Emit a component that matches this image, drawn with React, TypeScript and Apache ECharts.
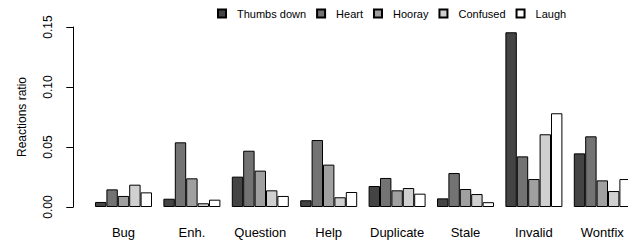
import React, { useEffect, useRef } from "react";
import * as echarts from "echarts";

const categories = ["Bug", "Enh.", "Question", "Help", "Duplicate", "Stale", "Invalid", "Wontfix"];
const seriesNames = ["Thumbs down", "Heart", "Hooray", "Confused", "Laugh"];
const thumbsDown = [0.0042, 0.0069, 0.0253, 0.0056, 0.0175, 0.0072, 0.1456, 0.0447];
const heart = [0.0147, 0.0539, 0.0469, 0.0558, 0.0242, 0.0283, 0.0422, 0.0589];
const hooray = [0.0092, 0.0239, 0.0303, 0.0353, 0.0139, 0.015, 0.0233, 0.0222];
const confused = [0.0186, 0.0031, 0.0139, 0.0081, 0.0158, 0.0108, 0.0606, 0.0133];
const laugh = [0.0122, 0.0061, 0.0092, 0.0125, 0.0111, 0.004, 0.0781, 0.0233];
const yTicks = [0, 0.05, 0.1, 0.15];
const colors = ["#444444", "#737373", "#a0a0a0", "#d0d0d0", "#ffffff"];

export default function App() {
  const ref = useRef<HTMLDivElement>(null);
  useEffect(() => {
    if (!ref.current) return;
    const chart = echarts.init(ref.current, undefined, { renderer: "svg" });
    const font = "'Liberation Sans', Arial, Helvetica, sans-serif";
    const values = [thumbsDown, heart, hooray, confused, laugh];
    chart.setOption({
      animation: false,
      textStyle: { fontFamily: font, color: "#000" },
      legend: {
        data: seriesNames,
        top: 8,
        left: 217,
        padding: 0,
        itemWidth: 8,
        itemHeight: 8,
        itemGap: 10,
        icon: "rect",
        textStyle: { fontFamily: font, fontSize: 11, color: "#000", padding: [0, 0, 0, 6] },
      },
      grid: { left: 89.3, top: 27, width: 547.2, height: 180, containLabel: false },
      xAxis: {
        type: "category",
        data: categories,
        boundaryGap: true,
        axisLine: { show: false },
        axisTick: { show: false },
        axisLabel: { interval: 0, fontFamily: font, fontSize: 13, color: "#000", margin: 19 },
      },
      yAxis: {
        type: "value",
        min: yTicks[0],
        max: yTicks[yTicks.length - 1],
        interval: 0.05,
        offset: 16,
        splitLine: { show: false },
        axisLine: { show: true, lineStyle: { color: "#000", width: 1 } },
        axisTick: { show: true, length: 7, lineStyle: { color: "#000", width: 1 } },
        axisLabel: {
          rotate: 90,
          margin: 19,
          fontFamily: font,
          fontSize: 12,
          color: "#000",
          formatter: (v: number) => v.toFixed(2),
        },
        name: "Reactions ratio",
        nameLocation: "middle",
        nameRotate: 90,
        nameGap: 45,
        nameTextStyle: { fontFamily: font, fontSize: 12, color: "#000" },
      },
      series: seriesNames.map((name, i) => ({
        name,
        type: "bar",
        data: values[i],
        barGap: "0%",
        barCategoryGap: "16.6667%",
        itemStyle: { color: colors[i], borderColor: "#000", borderWidth: 1 },
      })),
    });
    return () => chart.dispose();
  }, []);
  return (
    <div style={{ position: "fixed", left: 0, top: 0, width: 628, height: 241, overflow: "hidden", background: "#fff" }}>
      <div ref={ref} style={{ width: 700, height: 241 }} />
    </div>
  );
}
